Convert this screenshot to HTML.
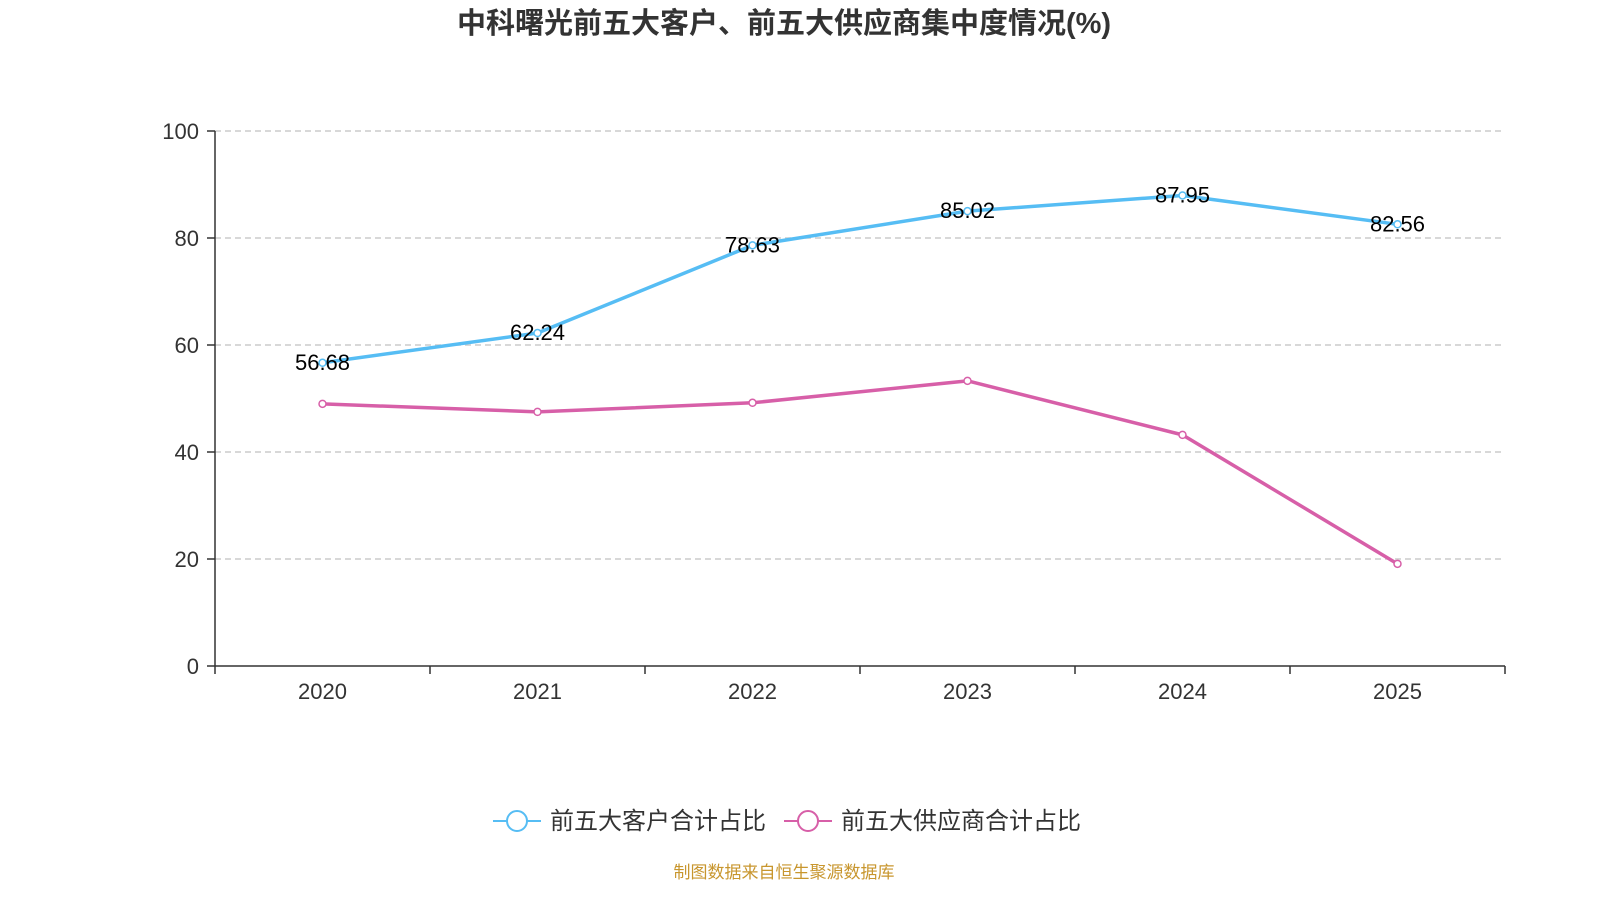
<!DOCTYPE html>
<html><head><meta charset="utf-8"><style>
body{margin:0;background:#fff;font-family:"Liberation Sans","Noto Sans CJK SC",sans-serif;}
</style></head><body>
<svg id="c" width="1600" height="900" xmlns="http://www.w3.org/2000/svg">
<text x="784" y="33" text-anchor="middle" font-size="29" font-weight="bold" fill="#333" font-family="Liberation Sans, Noto Sans CJK SC, sans-serif">中科曙光前五大客户、前五大供应商集中度情况(%)</text>
<g id="grid"></g><g id="axes"></g><g id="series"></g>
<g font-family="Liberation Sans, Noto Sans CJK SC, sans-serif">
<g>
<line x1="493" y1="821" x2="541" y2="821" stroke="#56bdf4" stroke-width="2"/>
<circle cx="517" cy="821" r="10" fill="#fff" stroke="#56bdf4" stroke-width="2"/>
<text x="550" y="829" font-size="24" fill="#333">前五大客户合计占比</text></g>
<g>
<line x1="784" y1="821" x2="832" y2="821" stroke="#d75fa8" stroke-width="2"/>
<circle cx="808" cy="821" r="10" fill="#fff" stroke="#d75fa8" stroke-width="2"/>
<text x="841" y="829" font-size="24" fill="#333">前五大供应商合计占比</text></g>
</g>
<text x="784" y="878" text-anchor="middle" font-size="17" fill="#c8962e" font-family="Liberation Sans, Noto Sans CJK SC, sans-serif">制图数据来自恒生聚源数据库</text>
</svg>
<script>
const categories=["2020","2021","2022","2023","2024","2025"];
const customers=[56.68,62.24,78.63,85.02,87.95,82.56];
const suppliers=[49.0,47.5,49.2,53.3,43.2,19.1];
const yTicks=[0,20,40,60,80,100];
const NS="http://www.w3.org/2000/svg";
const x0=215,x1=1505,yb=666,yt=131;
const bw=(x1-x0)/categories.length;
const X=i=>x0+bw*(i+0.5);
const Y=v=>yb-(v/100)*(yb-yt);
function mk(t,a,p){const e=document.createElementNS(NS,t);for(const k in a)e.setAttribute(k,a[k]);p.appendChild(e);return e;}
const g=document.getElementById('grid'),ax=document.getElementById('axes'),s=document.getElementById('series');
yTicks.forEach(v=>{
 if(v>0){const l=mk('line',{x1:x0,x2:x1,y1:Y(v),y2:Y(v),stroke:'#ccc','stroke-dasharray':'6,4','stroke-width':1.5},g);
 
 }
 const t=mk('text',{x:199,y:Y(v)+8,'text-anchor':'end','font-size':22,fill:'#333'},ax);t.textContent=v;
 
 
 mk('line',{x1:x0-8,x2:x0,y1:Y(v),y2:Y(v),stroke:'#333','stroke-width':1.5},ax);
});
mk('line',{x1:x0,x2:x0,y1:yt,y2:yb,stroke:'#333','stroke-width':1.5},ax);
mk('line',{x1:x0,x2:x1,y1:yb,y2:yb,stroke:'#333','stroke-width':1.5},ax);
for(let i=0;i<=categories.length;i++)mk('line',{x1:x0+bw*i,x2:x0+bw*i,y1:yb,y2:yb+8,stroke:'#333','stroke-width':1.5},ax);
categories.forEach((c,i)=>{const t=mk('text',{x:X(i),y:699,'text-anchor':'middle','font-size':22,fill:'#333'},ax);t.textContent=c;
 
 });
function series(vals,color,name,labels){
 const p=mk('polyline',{points:vals.map((v,i)=>X(i)+','+Y(v)).join(' '),fill:'none',stroke:color,'stroke-width':3.5,'stroke-linejoin':'round'},s);
 
 
 vals.forEach((v,i)=>{const c=mk('circle',{cx:X(i),cy:Y(v),r:3.5,fill:'#fff',stroke:color,'stroke-width':1.5},s);
  
  
  if(labels){const t=mk('text',{x:X(i),y:Y(v)+7,'text-anchor':'middle','font-size':22,fill:'#000'},s);t.textContent=v.toFixed(2);
   
   }});
}
series(suppliers,'#d75fa8','suppliers',false);
series(customers,'#56bdf4','customers',true);
</script>
</body></html>
